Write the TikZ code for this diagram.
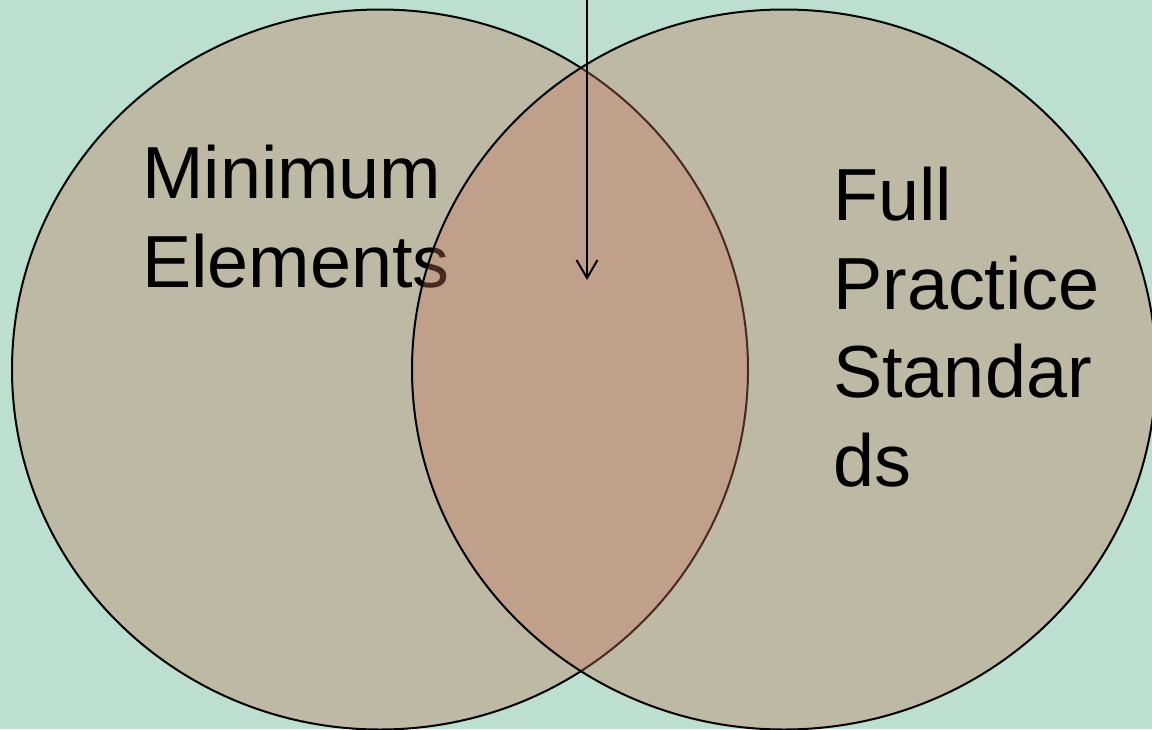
\documentclass[tikz,border=0pt]{standalone}
\usepackage{fontspec}
\setmainfont{Liberation Sans}
\usetikzlibrary{arrows.meta}
\definecolor{mint}{RGB}{188,223,208}
\definecolor{clay}{RGB}{196,118,91}
\begin{document}
\begin{tikzpicture}[x=1pt, y=-1pt,
	venn/.style={draw=black, line width=2pt, fill=clay, fill opacity=0.36, draw opacity=1},
	venntext/.style={anchor=base west, inner sep=0pt, align=left, font=\fontsize{73.8}{88.5}\selectfont}]
	\fill[mint] (0,0) rectangle (1152,729);
	\useasboundingbox (0,0) rectangle (1152,729);
	\draw[venn] (380,369.5) ellipse [x radius=368, y radius=360];
	\node[venntext] at (142,287) (minimum) {Minimum\\Elements};
	\draw[venn] (784,369.5) ellipse [x radius=372, y radius=360];
	\node[venntext] at (833,486) (full) {Full\\Practice\\Standar\\ds};
	\coordinate (top) at (587,0);
	\coordinate (tip) at (587,280);
	\draw[line width=2pt, -{Straight Barb[length=18pt,width=21pt]}] (top) -- (tip);
\end{tikzpicture}
\end{document}
